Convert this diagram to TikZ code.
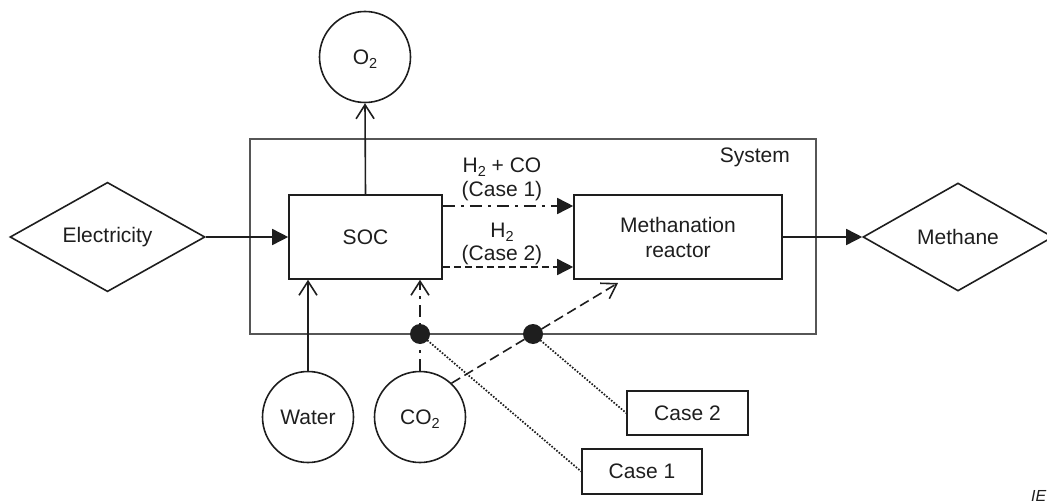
\documentclass[tikz,border=0pt]{standalone}
\usepackage{fontspec}
\setmainfont{Liberation Sans}
\usetikzlibrary{arrows.meta,shapes.geometric}
\newcommand{\dn}[1]{\raisebox{-4.5pt}[0pt][0pt]{\fontsize{14.5}{14.5}\selectfont #1}}
\definecolor{ink}{HTML}{1E1E1E}
\tikzset{
  base/.style={draw=ink, line width=1.6pt, text=ink, font=\fontsize{21}{25}\selectfont, inner sep=0pt},
  circ/.style={base, circle, minimum size=91pt},
  boxn/.style={base, rectangle, align=center},
  diam/.style={base, diamond, minimum width=#1, minimum height=108pt},
  lab/.style={text=ink, font=\fontsize{21}{25}\selectfont, inner sep=0pt},
  dotn/.style={circle, fill=ink, draw=none, minimum size=20pt, inner sep=0pt},
  conn/.style={draw=ink, line width=1.6pt},
  arrF/.style={conn, -{Triangle[length=16pt,width=16pt]}},
  arrO/.style={conn, -{Straight Barb[length=14pt,width=18pt,line width=1.6pt]}},
  dashdotc/.style={dash pattern=on 12pt off 6pt on 3pt off 6pt},
  dashc/.style={dash pattern=on 7pt off 4pt},
  longdash/.style={dash pattern=on 10pt off 5pt},
  dotl/.style={conn, line width=1.7pt, dash pattern=on 1.6pt off 1.6pt},
}
\begin{document}
\begin{tikzpicture}[x=1pt,y=-1pt]
\useasboundingbox (0,0) rectangle (1047,503);
% system boundary
\node[draw=ink!75, line width=1.1pt, rectangle, minimum width=566pt, minimum height=195pt, inner sep=0pt] (sys) at (533,236.5) {};
\node[lab, anchor=base east] (systxt) at (790,162) {System};
% main nodes
\node[circ] (o2) at (365,57) {O\dn{2}};
\node[boxn, minimum width=153pt, minimum height=84pt] (soc) at (365.5,237) {SOC};
\node[boxn, minimum width=208pt, minimum height=84pt] (meth) at (678,237) {Methanation\\reactor};
\node[diam=195pt] (elec) at (107.5,237) {Electricity};
\node[diam=190pt] (methane) at (958,237) {Methane};
\node[circ] (water) at (308,417) {Water};
\node[circ] (co2) at (420,417) {CO\dn{2}};
\node[boxn, minimum width=121pt, minimum height=44pt] (case2) at (687.5,413) {Case 2};
\node[boxn, minimum width=120pt, minimum height=45pt] (case1) at (642,471.5) {Case 1};
% labels of the flows
\node[lab, anchor=base] (l1a) at (502,172) {H\dn{2} + CO};
\node[lab, anchor=base] (l1b) at (502,196) {(Case 1)};
\node[lab, anchor=base] (l2a) at (502,237) {H\dn{2}};
\node[lab, anchor=base] (l2b) at (502,260) {(Case 2)};
% connectors
\draw[arrF] (elec.east) -- (soc.west);
\draw[arrF] (meth.east) -- (methane.west);
\draw[arrO] (soc.north) -- (o2.south);
\draw[arrO] (water.north) -- (water.north |- soc.south);
\draw[arrO, dashdotc] (co2.north) -- (co2.north |- soc.south);
\draw[arrF, dashdotc] ([yshift=31pt]soc.east) -- ([yshift=31pt]meth.west);
\draw[arrF, dashc] ([yshift=-30pt]soc.east) -- ([yshift=-30pt]meth.west);
\coordinate (tip) at (618,283);
\draw[arrO, longdash] (co2.47) -- (tip);
% case markers
\node[dotn] (dot1) at (420,334) {};
\node[dotn] (dot2) at (533,334) {};
\draw[dotl] (dot1.center) -- (case1.west);
\draw[dotl] (dot2.center) -- (case2.west);
\node[text=ink, font=\fontsize{16}{16}\selectfont\itshape, anchor=base west, inner sep=0pt] (iec) at (1031,501) {IE};
\end{tikzpicture}
\end{document}
